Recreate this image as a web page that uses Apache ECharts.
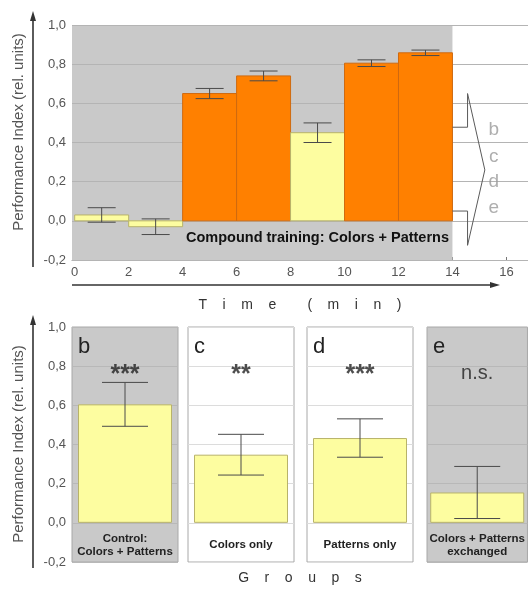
<!DOCTYPE html>
<html><head><meta charset="utf-8">
<script src="https://cdn.jsdelivr.net/npm/echarts@6/dist/echarts.min.js"></script>
<style>html,body{margin:0;padding:0;background:#fff}#c{width:528px;height:590px}</style>
</head><body><div id="c"></div><script>
const FONT = '"Liberation Sans", Arial, sans-serif';

// ---- panel a: time course ----
const timeStart = [0, 2, 4, 6, 8, 10, 12];
const timeEnd = [2, 4, 6, 8, 10, 12, 14];
const timeValues = [0.03, -0.03, 0.65, 0.74, 0.45, 0.805, 0.858];
const timeErrors = [0.037, 0.04, 0.026, 0.025, 0.05, 0.017, 0.014];
const timeIsTraining = [false, false, true, true, false, true, true];
const trainingEnd = 14;
const timeTicks = [0, 2, 4, 6, 8, 10, 12, 14, 16];
const trainingLabel = 'Compound training: Colors + Patterns';
const bracketX = [14, 14.56, 14.56, 15.2, 14.56, 14.56, 14];
const bracketY = [0.478, 0.478, 0.65, 0.26, -0.125, 0.05, 0.05];
const testLetters = ['b', 'c', 'd', 'e'];
const testLetterY = [0.463, 0.325, 0.197, 0.065];
const testLetterX = 15.53;

// ---- panels b-e: groups ----
const groupNames = ['Control:\nColors + Patterns', 'Colors only', 'Patterns only', 'Colors + Patterns\nexchanged'];
const groupValues = [0.605, 0.348, 0.433, 0.155];
const groupErrors = [0.112, 0.104, 0.098, 0.133];
const groupSignif = ['***', '**', '***', 'n.s.'];
const groupSignifY = [0.765, 0.765, 0.765, 0.765];
const panelLetters = ['b', 'c', 'd', 'e'];
const groupGray = [true, false, false, true];

const yName = 'Performance Index (rel. units)';
const yMin = -0.2, yMax = 1.0, yStep = 0.2;
const fmt = v => (Math.round(v * 10) / 10).toFixed(1).replace('.', ',');

const GRAY = '#c9c9c9';
const ORANGE = '#ff8000';
const YELLOW = '#fdfda0';

const chart = echarts.init(document.getElementById('c'), null, {renderer: 'canvas'});

const panelLefts = [72, 188, 307, 427];
const panelW = 106;

const grids = [{left: 72, top: 25, width: 456, height: 235}];
panelLefts.forEach((l, i) => grids.push({
  left: l, top: 327, width: panelW, height: 235, show: true,
  backgroundColor: groupGray[i] ? GRAY : '#ffffff', borderColor: '#a8a8a8', borderWidth: 1
}));

const xAxes = [{
  gridIndex: 0, type: 'value', min: -0.1, max: 16.8,
  axisLine: {show: true, onZero: false, lineStyle: {color: '#9a9a9a', width: 1}},
  axisTick: {show: true, inside: true, length: 3, customValues: timeTicks, lineStyle: {color: '#777'}},
  axisLabel: {customValues: timeTicks, color: '#555', fontSize: 13, fontFamily: FONT, margin: 6},
  splitLine: {show: false},
  name: 'T    i    m    e        (    m    i    n    )', nameLocation: 'middle', nameGap: 38,
  nameTextStyle: {color: '#333', fontSize: 14, fontFamily: FONT}
}];
const yAxes = [{
  gridIndex: 0, type: 'value', min: yMin, max: yMax, interval: yStep, z: 2,
  axisLine: {show: false}, axisTick: {show: false},
  axisLabel: {formatter: fmt, color: '#555', fontSize: 13, fontFamily: FONT, margin: 6},
  splitLine: {show: true, lineStyle: {color: '#b4b4b4', width: 1}}
}];
groupNames.forEach((g, i) => {
  xAxes.push({
    gridIndex: i + 1, type: 'category', data: [g],
    axisLine: {show: false, onZero: false}, axisTick: {show: false},
    axisLabel: {inside: true, margin: 17, verticalAlign: 'middle', interval: 0,
      color: '#222', fontSize: 11.5, fontWeight: 'bold', fontFamily: FONT, lineHeight: 13},
    splitLine: {show: false}
  });
  yAxes.push({
    gridIndex: i + 1, type: 'value', min: yMin, max: yMax, interval: yStep,
    axisLine: {show: false}, axisTick: {show: false},
    axisLabel: {show: i === 0, formatter: fmt, color: '#555', fontSize: 13, fontFamily: FONT, margin: 6},
    splitLine: {show: true, lineStyle: {color: groupGray[i] ? '#b8b8b8' : '#dcdcdc', width: 1}}
  });
});

const series = [];
// gray background for the compound-training period
series.push({
  type: 'custom', xAxisIndex: 0, yAxisIndex: 0, z: 1, silent: true,
  data: [[trainingEnd]],
  renderItem: (params, api) => {
    const cs = params.coordSys;
    const xr = api.coord([api.value(0), 0])[0];
    return {type: 'rect', shape: {x: cs.x, y: cs.y, width: xr - cs.x, height: cs.height},
      style: {fill: GRAY}};
  }
});
// time bars
series.push({
  type: 'custom', xAxisIndex: 0, yAxisIndex: 0, z: 3, silent: true,
  data: timeValues.map((v, i) => [timeStart[i], timeEnd[i], v, timeIsTraining[i] ? 1 : 0]),
  renderItem: (params, api) => {
    const p0 = api.coord([api.value(0), api.value(2)]);
    const p1 = api.coord([api.value(1), 0]);
    const tr = api.value(3) === 1;
    const y = Math.min(p0[1], p1[1]);
    return {type: 'rect', shape: {x: p0[0], y: y, width: p1[0] - p0[0], height: Math.abs(p1[1] - p0[1])},
      style: {fill: tr ? ORANGE : YELLOW, stroke: tr ? '#cf6a10' : '#b8b36a', lineWidth: 1}};
  }
});
function errRender(capHalf) {
  return (params, api) => {
    const x = api.value(0);
    const lo = api.coord([x, api.value(1)]);
    const hi = api.coord([x, api.value(2)]);
    const st = {stroke: '#4a4a4a', lineWidth: 1};
    return {type: 'group', children: [
      {type: 'line', shape: {x1: lo[0], y1: lo[1], x2: hi[0], y2: hi[1]}, style: st},
      {type: 'line', shape: {x1: lo[0] - capHalf, y1: lo[1], x2: lo[0] + capHalf, y2: lo[1]}, style: st},
      {type: 'line', shape: {x1: hi[0] - capHalf, y1: hi[1], x2: hi[0] + capHalf, y2: hi[1]}, style: st}
    ]};
  };
}
series.push({
  type: 'custom', xAxisIndex: 0, yAxisIndex: 0, z: 4, silent: true,
  data: timeValues.map((v, i) => [(timeStart[i] + timeEnd[i]) / 2, v - timeErrors[i], v + timeErrors[i]]),
  renderItem: errRender(14)
});
// bracket arrow towards tests b-e
series.push({
  type: 'line', xAxisIndex: 0, yAxisIndex: 0, z: 5, silent: true, symbol: 'none',
  data: bracketX.map((x, i) => [x, bracketY[i]]),
  lineStyle: {color: '#5a5a5a', width: 1}
});
series.push({
  type: 'scatter', xAxisIndex: 0, yAxisIndex: 0, z: 5, silent: true, symbolSize: 0,
  data: testLetters.map((t, i) => ({value: [testLetterX, testLetterY[i]], name: t})),
  label: {show: true, position: 'inside', formatter: p => p.name, color: '#9a9a9a', fontSize: 19, fontFamily: FONT}
});
// group panels
groupNames.forEach((g, i) => {
  series.push({
    type: 'bar', xAxisIndex: i + 1, yAxisIndex: i + 1, z: 3, silent: true, barWidth: 94,
    data: [groupValues[i]],
    itemStyle: {color: YELLOW, borderColor: '#b8b36a', borderWidth: 1}
  });
  series.push({
    type: 'custom', xAxisIndex: i + 1, yAxisIndex: i + 1, z: 4, silent: true,
    data: [[0, groupValues[i] - groupErrors[i], groupValues[i] + groupErrors[i]]],
    renderItem: errRender(23)
  });
  const star = groupSignif[i] !== 'n.s.';
  series.push({
    type: 'scatter', xAxisIndex: i + 1, yAxisIndex: i + 1, z: 5, silent: true, symbolSize: 0,
    data: [[0, groupSignifY[i]]],
    label: {show: true, position: 'inside', formatter: groupSignif[i], color: '#222',
      fontSize: star ? 25 : 20, fontWeight: star ? 'bold' : 'normal', fontFamily: FONT,
      offset: star ? [0, 2] : [0, 0]}
  });
});

const arrowColor = '#333';
const graphic = [
  {type: 'line', shape: {x1: 33, y1: 267, x2: 33, y2: 18}, style: {stroke: arrowColor, lineWidth: 1.6}},
  {type: 'polygon', shape: {points: [[33, 11], [30, 21], [36, 21]]}, style: {fill: arrowColor}},
  {type: 'line', shape: {x1: 33, y1: 568, x2: 33, y2: 322}, style: {stroke: arrowColor, lineWidth: 1.6}},
  {type: 'polygon', shape: {points: [[33, 315], [30, 325], [36, 325]]}, style: {fill: arrowColor}},
  {type: 'line', shape: {x1: 72, y1: 285, x2: 492, y2: 285}, style: {stroke: arrowColor, lineWidth: 1.6}},
  {type: 'polygon', shape: {points: [[500, 285], [490, 282], [490, 288]]}, style: {fill: arrowColor}},
  {type: 'text', x: 19, y: 132, rotation: Math.PI / 2, style: {text: yName, x: 0, y: 0, align: 'center',
    verticalAlign: 'middle', font: '15px ' + FONT, fill: '#555'}},
  {type: 'text', x: 19, y: 444, rotation: Math.PI / 2, style: {text: yName, x: 0, y: 0, align: 'center',
    verticalAlign: 'middle', font: '15px ' + FONT, fill: '#555'}},
  {type: 'text', left: 76, top: 27, style: {text: 'a', font: '24px ' + FONT, fill: '#222'}},
  {type: 'text', z: 10, style: {text: trainingLabel, x: 449, y: 238, align: 'right', verticalAlign: 'middle',
    font: 'bold 14.5px ' + FONT, fill: '#111'}},
  {type: 'text', style: {text: 'G    r    o    u    p    s', x: 300, y: 578, align: 'center', verticalAlign: 'middle',
    font: '14px ' + FONT, fill: '#333'}}
];
panelLetters.forEach((t, i) => graphic.push({
  type: 'text', style: {text: t, x: panelLefts[i] + 6, y: 347, align: 'left', verticalAlign: 'middle',
    font: '22px ' + FONT, fill: '#222'}
}));

chart.setOption({
  animation: false,
  textStyle: {fontFamily: FONT},
  grid: grids, xAxis: xAxes, yAxis: yAxes, series: series, graphic: graphic
});
</script></body></html>
